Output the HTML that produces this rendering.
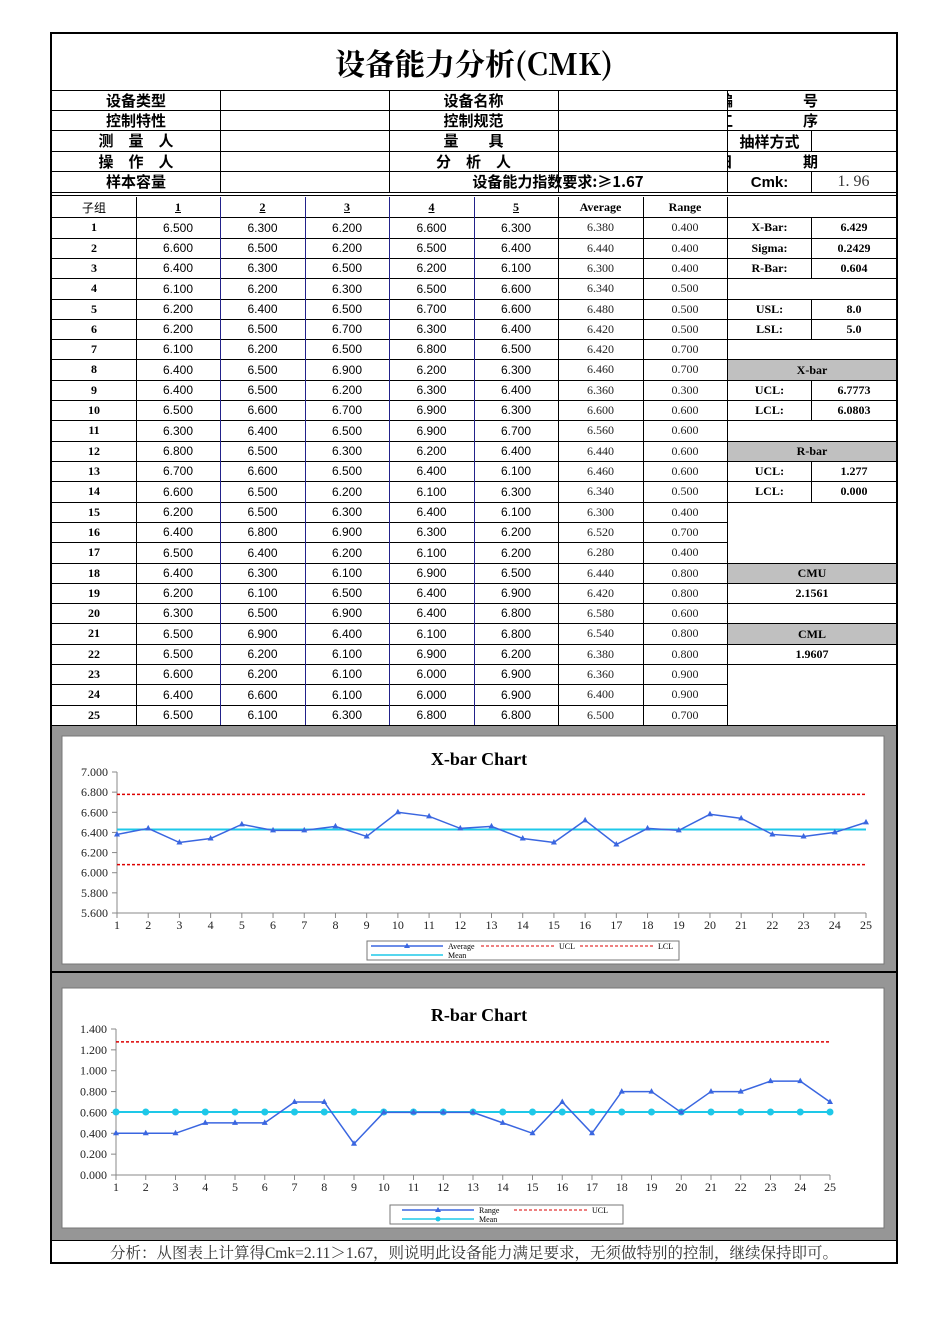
<!DOCTYPE html>
<html><head><meta charset="utf-8"><style>
body{margin:0;width:950px;height:1344px;background:#fff;position:relative;overflow:hidden;font-family:"Liberation Serif","Noto Serif CJK SC",serif}
.c{position:absolute;box-sizing:border-box;display:flex;align-items:center;justify-content:center;white-space:nowrap;color:#000}
.sp{position:absolute;top:0;bottom:0;left:-10px;width:100px;display:flex;align-items:center;justify-content:space-between}
</style></head><body>
<div id="root"></div>
<script>
var R=document.getElementById('root');
function box(x,y,w,h,txt,st){var d=document.createElement('div');d.className='c';d.style.cssText='left:'+x+'px;top:'+y+'px;width:'+w+'px;height:'+h+'px;'+(st||'');d.innerHTML=txt||'';R.appendChild(d);return d;}
function line(x,y,w,h,c){box(x,y,w,h,'','background:'+(c||'#000'));}
box(50,32,848,1232,'','border:2px solid #000');
box(52,34,844,56,'设备能力分析(CMK)','font-family:"Noto Serif CJK SC",serif;font-size:30px;font-weight:bold;');
line(52,90,844,1);
var hy=[90,110,130,151,171,192];
var hdr=[['设备类型','设备名称','<span class="sp"><span>编</span><span>号</span></span>'],['控制特性','控制规范','<span class="sp"><span>工</span><span>序</span></span>'],['测　量　人','量　　具','抽样方式'],['操　作　人','分　析　人','<span class="sp"><span>日</span><span>期</span></span>'],['样本容量','','Cmk:']];
var cf='font-family:"Noto Sans CJK SC",sans-serif;font-weight:600;font-size:15px;';
for(var i=0;i<5;i++){var y=hy[i],h=hy[i+1]-y;
 line(52,hy[i+1],844,1);
 box(52,y,168,h,hdr[i][0],cf);
 if(i<4)box(389,y,169,h,hdr[i][1],cf);
 var sp=(i==0||i==1||i==3);
 box(728,y+1,sp?96:83,h-1,hdr[i][2],cf+'overflow:hidden;'+(i==4?'font-family:"Liberation Sans",sans-serif;font-weight:bold;':''));
}
box(389,171,338,21,'设备能力指数要求:≥1.67',cf);
box(811,171,85,21,'1. 96','font-family:"Liberation Serif",serif;font-size:16px;color:#333');
[220,389,558,727].forEach(function(x){line(x,90,1,102);});
line(811,130,1,21);line(811,171,1,21);
line(52,195,844,1);
var cols=[52,136,220,305,389,474,558,643,727,811,896];
var data=[[6.5,6.3,6.2,6.6,6.3],[6.6,6.5,6.2,6.5,6.4],[6.4,6.3,6.5,6.2,6.1],[6.1,6.2,6.3,6.5,6.6],[6.2,6.4,6.5,6.7,6.6],[6.2,6.5,6.7,6.3,6.4],[6.1,6.2,6.5,6.8,6.5],[6.4,6.5,6.9,6.2,6.3],[6.4,6.5,6.2,6.3,6.4],[6.5,6.6,6.7,6.9,6.3],[6.3,6.4,6.5,6.9,6.7],[6.8,6.5,6.3,6.2,6.4],[6.7,6.6,6.5,6.4,6.1],[6.6,6.5,6.2,6.1,6.3],[6.2,6.5,6.3,6.4,6.1],[6.4,6.8,6.9,6.3,6.2],[6.5,6.4,6.2,6.1,6.2],[6.4,6.3,6.1,6.9,6.5],[6.2,6.1,6.5,6.4,6.9],[6.3,6.5,6.9,6.4,6.8],[6.5,6.9,6.4,6.1,6.8],[6.5,6.2,6.1,6.9,6.2],[6.6,6.2,6.1,6.0,6.9],[6.4,6.6,6.1,6.0,6.9],[6.5,6.1,6.3,6.8,6.8]];
var avg=[],rng=[];
data.forEach(function(r){var s=0,mx=-9,mn=9;r.forEach(function(v){s+=v;mx=Math.max(mx,v);mn=Math.min(mn,v)});avg.push(s/5);rng.push(Math.round((mx-mn)*10)/10);});
var y0=197,rh=(725-197)/26;
function ry(i){return Math.round(y0+i*rh);}
var bs='font-weight:bold;font-size:12px;';
var th=['子组','<u>1</u>','<u>2</u>','<u>3</u>','<u>4</u>','<u>5</u>','Average','Range'];
for(var c=0;c<8;c++)box(cols[c],ry(0),cols[c+1]-cols[c],ry(1)-ry(0),th[c],bs+(c==0?'font-family:"Noto Sans CJK SC",sans-serif;font-weight:normal':''));
for(var i=0;i<25;i++){var y=ry(i+1),h=ry(i+2)-y;
 box(52,y,84,h,i+1,bs);
 for(var c=0;c<5;c++)box(cols[c+1],y,cols[c+2]-cols[c+1],h,data[i][c].toFixed(3),'font-family:"Liberation Sans",sans-serif;font-size:12px;');
 box(558,y,85,h,avg[i].toFixed(3),'font-size:12px;color:#222');
 box(643,y,84,h,rng[i].toFixed(3),'font-size:12px;color:#222');
}
for(var i=1;i<=26;i++)line(52,ry(i),675,1);
for(var c=1;c<8;c++)line(cols[c],ry(0),1,725-ry(0),(c>=2&&c<=5)?'#22228a':'#000');
line(727,ry(0),1,725-ry(0));
var side={1:['X-Bar:','6.429'],2:['Sigma:','0.2429'],3:['R-Bar:','0.604'],5:['USL:','8.0'],6:['LSL:','5.0'],9:['UCL:','6.7773'],10:['LCL:','6.0803'],13:['UCL:','1.277'],14:['LCL:','0.000']};
var gray={8:'X-bar',12:'R-bar',18:'CMU',21:'CML'};
var full={19:'2.1561',22:'1.9607'};
var hl=[1,2,3,4,5,6,7,8,9,10,11,12,13,14,15,18,19,20,21,22,23];
hl.forEach(function(i){line(727,ry(i),169,1);});
for(var k in side){var y=ry(+k),h=ry(+k+1)-y;box(728,y,83,h,side[k][0],bs);box(812,y,84,h,side[k][1],bs);line(811,y,1,h);}
for(var k in gray){var y=ry(+k),h=ry(+k+1)-y;box(728,y+1,168,h-1,gray[k],bs+'background:#c0c0c0');}
for(var k in full){var y=ry(+k),h=ry(+k+1)-y;box(728,y,168,h,full[k],bs);}
line(52,725,844,1);
box(52,1241,844,21,'分析：从图表上计算得Cmk=2.11＞1.67，则说明此设备能力满足要求，无须做特别的控制，继续保持即可。','font-family:"Liberation Serif","Noto Serif CJK SC",serif;font-size:15.5px;color:#333');
line(52,1240,844,1);
var S='<svg width="950" height="1344" style="position:absolute;left:0;top:0" xmlns="http://www.w3.org/2000/svg" font-family="Liberation Serif,serif">';
S+='<rect x="52" y="726" width="844" height="514" fill="#969696"/>';
S+='<line x1="52" y1="972" x2="896" y2="972" stroke="#000" stroke-width="2"/>';
function chart(o){var s='';
 s+='<rect x="'+o.bx+'" y="'+o.by+'" width="'+o.bw+'" height="'+o.bh+'" fill="#fff" stroke="#777"/>';
 s+='<text x="479" y="'+o.ty+'" font-size="18" font-weight="bold" text-anchor="middle">'+o.title+'</text>';
 function X(i){return o.x0+i*(o.x1-o.x0)/24;}
 function Y(v){return o.yb-(v-o.vmin)/(o.vmax-o.vmin)*(o.yb-o.yt);}
 s+='<line x1="'+o.x0+'" y1="'+o.yt+'" x2="'+o.x0+'" y2="'+o.yb+'" stroke="#888"/>';
 s+='<line x1="'+o.x0+'" y1="'+o.yb+'" x2="'+o.x1+'" y2="'+o.yb+'" stroke="#888"/>';
 for(var v=o.vmin;v<=o.vmax+1e-9;v+=0.2){var y=Y(v);s+='<line x1="'+(o.x0-5)+'" y1="'+y+'" x2="'+o.x0+'" y2="'+y+'" stroke="#888"/><text x="'+(o.x0-9)+'" y="'+(y+4)+'" font-size="12" text-anchor="end" fill="#222">'+v.toFixed(3)+'</text>';}
 for(var i=0;i<25;i++){var x=X(i);s+='<line x1="'+x+'" y1="'+o.yb+'" x2="'+x+'" y2="'+(o.yb+5)+'" stroke="#888"/><text x="'+x+'" y="'+(o.yb+16)+'" font-size="12" text-anchor="middle" fill="#222">'+(i+1)+'</text>';}
 o.lim.forEach(function(v){s+='<line x1="'+o.x0+'" y1="'+Y(v)+'" x2="'+o.x1+'" y2="'+Y(v)+'" stroke="#d00" stroke-width="1.5" stroke-dasharray="3,2"/>';});
 var ym=Y(o.mean);s+='<line x1="'+o.x0+'" y1="'+ym+'" x2="'+o.x1+'" y2="'+ym+'" stroke="#1ec8e8" stroke-width="2"/>';
 if(o.dots)for(var i=0;i<25;i++)s+='<circle cx="'+X(i)+'" cy="'+ym+'" r="3.5" fill="#1ec8e8"/>';
 var p=o.d.map(function(v,i){return X(i)+','+Y(v)}).join(' ');
 s+='<polyline points="'+p+'" fill="none" stroke="#3a66e0" stroke-width="1.5"/>';
 o.d.forEach(function(v,i){var x=X(i),y=Y(v);s+='<polygon points="'+x+','+(y-3.5)+' '+(x-3)+','+(y+2)+' '+(x+3)+','+(y+2)+'" fill="#3a66e0"/>';});
 return s;}
S+=chart({bx:62,by:736,bw:822,bh:228,ty:765,title:'X-bar Chart',x0:117,x1:866,yt:772,yb:913,vmin:5.6,vmax:7.0,lim:[6.7773,6.0803],mean:6.429,d:avg});
S+=chart({bx:62,by:988,bw:822,bh:240,ty:1021,title:'R-bar Chart',x0:116,x1:830,yt:1029,yb:1175,vmin:0,vmax:1.4,lim:[1.277],mean:0.604,d:rng,dots:true});
S+='<rect x="367" y="941" width="312" height="19" fill="#fff" stroke="#777"/>';
S+='<line x1="371" y1="946" x2="443" y2="946" stroke="#3a66e0" stroke-width="1.5"/><polygon points="407,943 404,948 410,948" fill="#3a66e0"/><text x="448" y="949" font-size="8">Average</text>';
S+='<line x1="481" y1="946" x2="555" y2="946" stroke="#d00" stroke-dasharray="3,2"/><text x="559" y="949" font-size="8">UCL</text>';
S+='<line x1="580" y1="946" x2="654" y2="946" stroke="#d00" stroke-dasharray="3,2"/><text x="658" y="949" font-size="8">LCL</text>';
S+='<line x1="371" y1="955" x2="443" y2="955" stroke="#1ec8e8" stroke-width="1.5"/><text x="448" y="958" font-size="8">Mean</text>';
S+='<rect x="390" y="1205" width="233" height="19" fill="#fff" stroke="#777"/>';
S+='<line x1="402" y1="1210" x2="474" y2="1210" stroke="#3a66e0" stroke-width="1.5"/><polygon points="438,1207 435,1212 441,1212" fill="#3a66e0"/><text x="479" y="1213" font-size="8">Range</text>';
S+='<line x1="514" y1="1210" x2="588" y2="1210" stroke="#d00" stroke-dasharray="3,2"/><text x="592" y="1213" font-size="8">UCL</text>';
S+='<line x1="402" y1="1219" x2="474" y2="1219" stroke="#1ec8e8" stroke-width="1.5"/><circle cx="438" cy="1219" r="2.5" fill="#1ec8e8"/><text x="479" y="1222" font-size="8">Mean</text>';
S+='</svg>';
var d=document.createElement('div');d.innerHTML=S;R.appendChild(d.firstChild);
</script>
</body></html>
